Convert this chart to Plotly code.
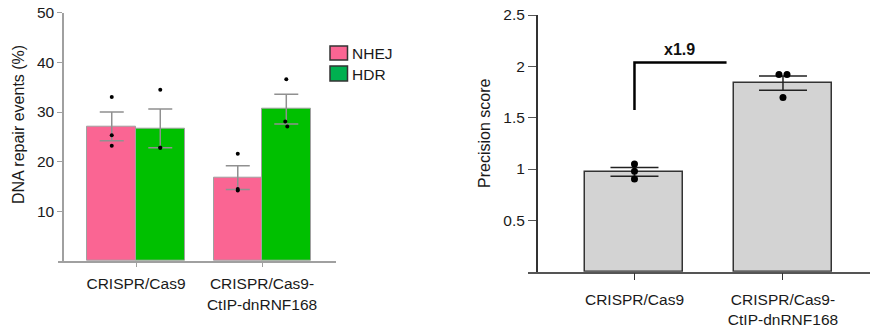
import plotly.graph_objects as go

W, H = 871, 336

# ---------------- data ----------------
categories = ["CRISPR/Cas9", "CRISPR/Cas9-<br>CtIP-dnRNF168"]

nhej_mean = [27.1, 16.8]
nhej_err = [2.9, 2.4]
hdr_mean = [26.7, 30.6]
hdr_err = [3.9, 3.0]

nhej_points = [[33.0, 25.3, 23.2], [21.6, 14.5, 14.2]]
hdr_points = [[34.5, 22.8, 22.8], [36.6, 28.1, 27.1]]

precision_mean = [0.972, 1.836]
precision_err = [0.042, 0.07]
precision_points = [[1.05, 0.978, 0.903], [1.92, 1.92, 1.696]]

fold_label = "x1.9"

left_yticks = [10, 20, 30, 40, 50]
right_yticks = [0.5, 1, 1.5, 2, 2.5]
right_yticklabels = ["0.5", "1", "1.5", "2", "2.5"]

# small horizontal jitter of the replicate dots (category units)
left_jitter = [[0, 0, 0], [0, -0.008, 0.008]]
left_jitter2 = [[0, 0, 0], [0, 0, 0]]
right_jitter = [[0, 0, 0], [-0.027, 0.027, 0]]

# ---------------- style ----------------
FONT = "Liberation Sans, Arial, sans-serif"
PINK = "#FA6593"
GREEN = "#00C000"
GREEN_LEG = "#00B050"
GREY_BAR = "#D3D3D3"
LBW = 0.385  # left bar width (category units)
RBW = 0.66

def px(x):
    return x / W

def py(y):
    return 1 - y / H

fig = go.Figure()

xs = list(range(len(categories)))

# ---- left panel bars
fig.add_trace(go.Bar(
    x=xs, y=nhej_mean, width=[LBW] * 2, offset=-LBW,
    marker=dict(color=PINK, line=dict(color="#A0A0A0", width=1)),
    error_y=dict(type="data", array=nhej_err, visible=True, color="#909090", thickness=1.5, width=12),
    xaxis="x", yaxis="y", showlegend=False, name="NHEJ"))
fig.add_trace(go.Bar(
    x=xs, y=hdr_mean, width=[LBW] * 2, offset=0,
    marker=dict(color=GREEN, line=dict(color="#A0A0A0", width=1)),
    error_y=dict(type="data", array=hdr_err, visible=True, color="#909090", thickness=1.5, width=12),
    xaxis="x", yaxis="y", showlegend=False, name="HDR"))

# ---- left panel replicate points
px_n, py_n, px_h, py_h = [], [], [], []
for i in xs:
    for j, v in enumerate(nhej_points[i]):
        px_n.append(i - LBW / 2 + left_jitter2[i][j])
        py_n.append(v)
    for j, v in enumerate(hdr_points[i]):
        px_h.append(i + LBW / 2 + left_jitter[i][j])
        py_h.append(v)
fig.add_trace(go.Scatter(x=px_n + px_h, y=py_n + py_h, mode="markers",
                         marker=dict(color="black", size=4),
                         xaxis="x", yaxis="y", showlegend=False, hoverinfo="skip"))

# ---- right panel bars
fig.add_trace(go.Bar(
    x=xs, y=precision_mean, width=[RBW] * 2,
    marker=dict(color=GREY_BAR, line=dict(color="#333333", width=1.5)),
    error_y=dict(type="data", array=precision_err, visible=True, color="#222222", thickness=1.5, width=24),
    xaxis="x2", yaxis="y2", showlegend=False, name="Precision score"))
rx, ry = [], []
for i in xs:
    for j, v in enumerate(precision_points[i]):
        rx.append(i + right_jitter[i][j])
        ry.append(v)
fig.add_trace(go.Scatter(x=rx, y=ry, mode="markers",
                         marker=dict(color="black", size=7),
                         xaxis="x2", yaxis="y2", showlegend=False, hoverinfo="skip"))

tickfont = dict(family=FONT, size=15.5, color="#1a1a1a")

fig.update_layout(
    width=W, height=H, autosize=False,
    margin=dict(l=0, r=0, t=0, b=0),
    paper_bgcolor="white", plot_bgcolor="white",
    font=dict(family=FONT, size=15.5, color="#1a1a1a"),
    bargap=0,
    xaxis=dict(domain=[px(58), px(336)], range=[-0.619, 1.587], anchor="y",
               tickvals=xs, ticktext=categories, ticks="outside", ticklen=4,
               ticklabelstandoff=4,
               tickcolor="#A0A0A0", showline=True, linecolor="#A0A0A0", linewidth=1.5,
               showgrid=False, zeroline=False, tickfont=tickfont, automargin=False),
    yaxis=dict(domain=[py(261), py(12.7)], range=[0, 50], anchor="free", position=px(63),
               tickvals=left_yticks, ticks="outside", ticklen=5, tickcolor="#A0A0A0",
               showline=True, linecolor="#A0A0A0", linewidth=1.5,
               showgrid=False, zeroline=False, tickfont=tickfont, automargin=False),
    xaxis2=dict(domain=[px(528), px(870)], range=[-0.717, 1.586], anchor="y2",
                tickvals=xs, ticktext=categories, ticks="outside", ticklen=7,
                ticklabelstandoff=6,
                tickcolor="#333333", showline=True, linecolor="#555555", linewidth=1.5,
                showgrid=False, zeroline=False, tickfont=tickfont, automargin=False),
    yaxis2=dict(domain=[py(271.7), py(15)], range=[0, 2.5], anchor="free", position=px(536.7),
                tickvals=right_yticks, ticktext=right_yticklabels, ticks="outside", ticklen=8,
                tickcolor="#555555", showline=True, linecolor="#333333", linewidth=1.5,
                showgrid=False, zeroline=False, tickfont=tickfont, automargin=False),
)

# y titles
fig.add_annotation(text="DNA repair events (%)", textangle=-90, x=px(18), y=py(125),
                   xref="paper", yref="paper", xanchor="center", yanchor="middle",
                   showarrow=False, font=dict(size=16))
fig.add_annotation(text="Precision score", textangle=-90, x=px(484), y=py(134),
                   xref="paper", yref="paper", xanchor="center", yanchor="middle",
                   showarrow=False, font=dict(size=16))

# legend (custom boxes)
fig.add_shape(type="rect", xref="paper", yref="paper", x0=px(330), x1=px(347.5), y0=py(60), y1=py(46),
              fillcolor=PINK, line=dict(color="#333333", width=1.5))
fig.add_shape(type="rect", xref="paper", yref="paper", x0=px(330), x1=px(347.5), y0=py(81), y1=py(66),
              fillcolor=GREEN_LEG, line=dict(color="#333333", width=1.5))
fig.add_annotation(text="NHEJ", x=px(350), y=py(53.5), xref="paper", yref="paper",
                   xanchor="left", yanchor="middle", showarrow=False, font=dict(size=15.5))
fig.add_annotation(text="HDR", x=px(350), y=py(74), xref="paper", yref="paper",
                   xanchor="left", yanchor="middle", showarrow=False, font=dict(size=15.5))

# significance bracket
fig.add_shape(type="path", xref="x2", yref="y2",
              path="M 0 1.576 L 0 2.037 L 0.62 2.037", line=dict(color="black", width=2.5))
fig.add_annotation(text="<b>" + fold_label + "</b>", x=0.306, y=2.16, xref="x2", yref="y2",
                   xanchor="center", yanchor="middle",
                   showarrow=False, font=dict(size=16, color="#111111"))

fig.write_html("out.html", config={"displayModeBar": False},
               post_script="document.body.style.margin='0';document.body.style.overflow='hidden';")
